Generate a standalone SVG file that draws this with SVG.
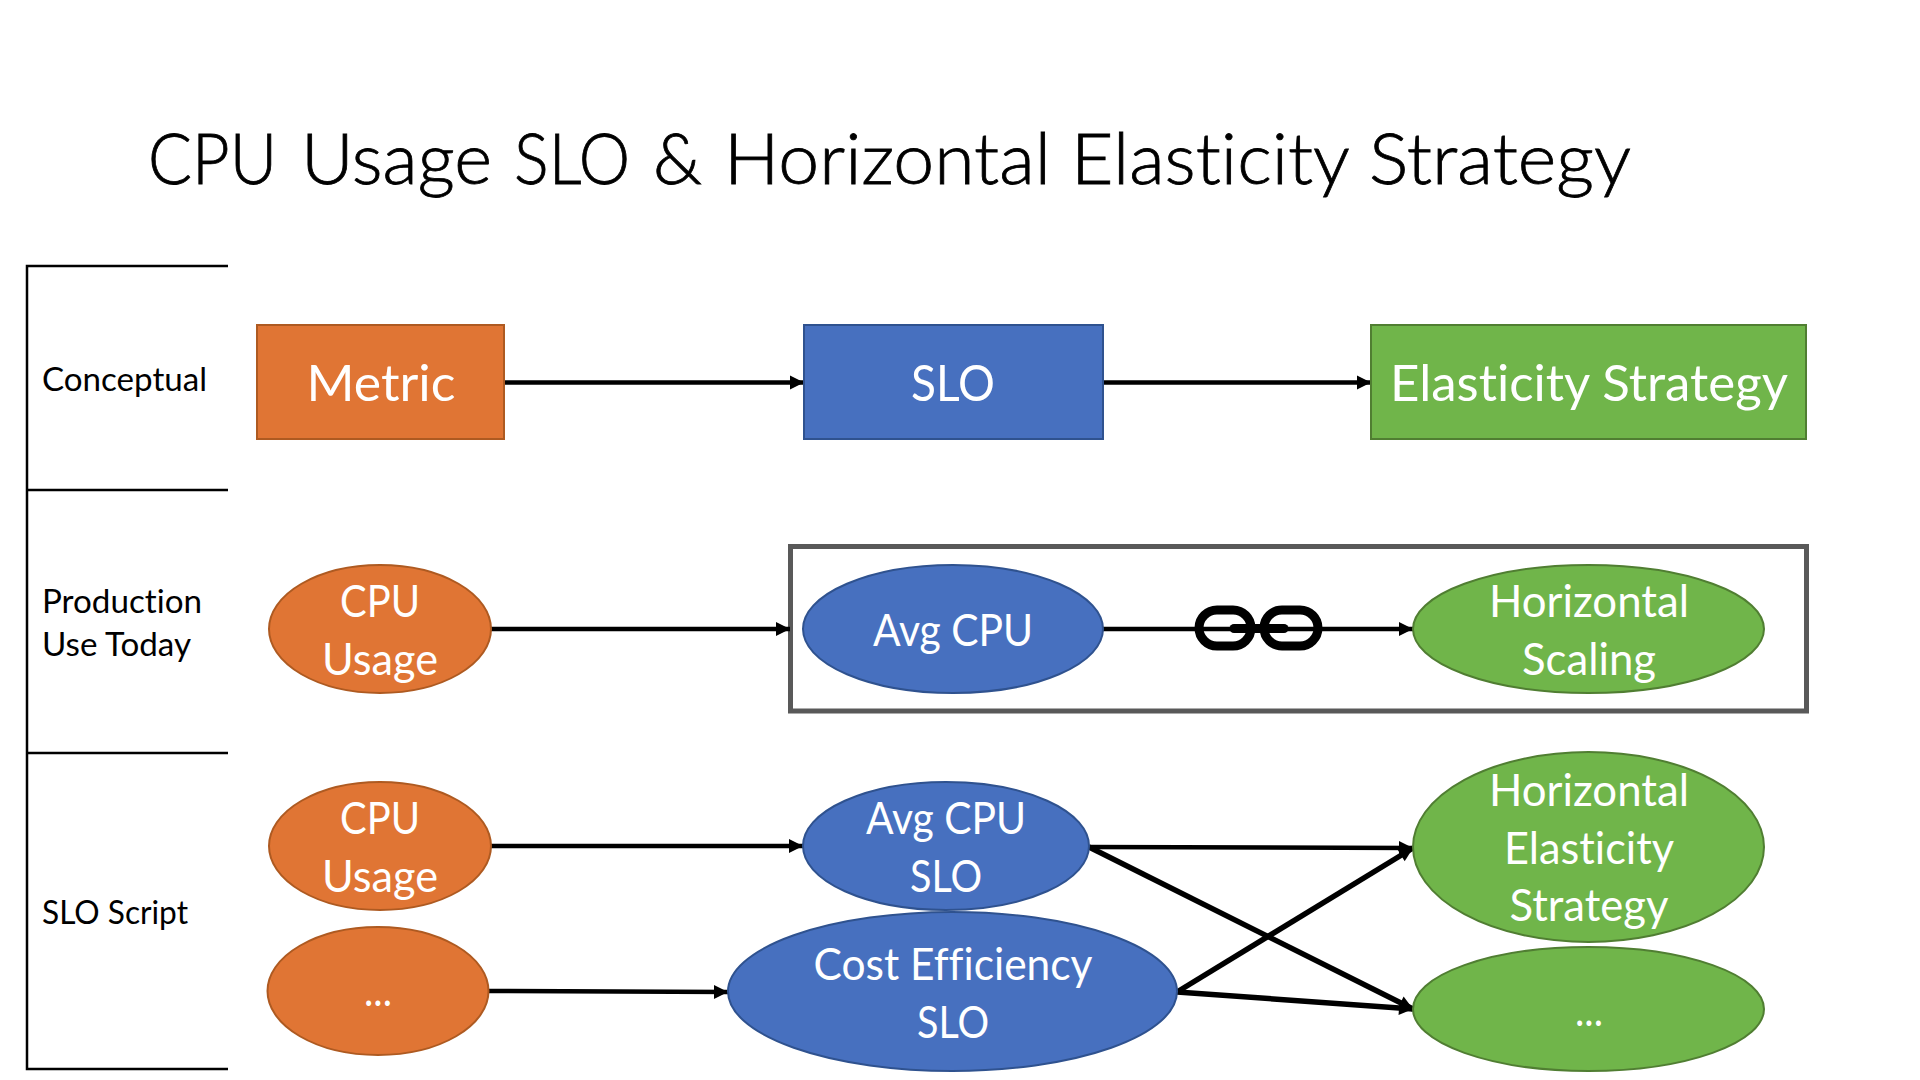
<svg xmlns="http://www.w3.org/2000/svg" width="1920" height="1080" viewBox="0 0 1920 1080">
<style>
text{font-family:"Lato","Liberation Sans",sans-serif;font-variant-ligatures:none}
.t{fill:#fff;font-size:45px;text-anchor:middle}
.r{font-size:50px}
.l{fill:#000;font-size:33px}
.o{fill:#E07534;stroke:#AE5A21;stroke-width:2}
.b{fill:#4770BF;stroke:#2F528F;stroke-width:2}
.g{fill:#70B54A;stroke:#507E32;stroke-width:2}
.a{stroke:#000;stroke-width:4.5;fill:none;marker-end:url(#ah)}
.br{stroke:#000;stroke-width:2.5;fill:none}
</style>
<defs><marker id="ah" markerUnits="userSpaceOnUse" markerWidth="16" markerHeight="16" refX="15" refY="8" orient="auto"><path d="M1 1L15 8L1 15Z" fill="#000"/></marker></defs>
<rect width="1920" height="1080" fill="#fff"/>
<text id="title" y="184" font-size="71" font-weight="300" fill="#000" stroke="#000" stroke-width="0.8"><tspan x="148" textLength="129" lengthAdjust="spacingAndGlyphs">CPU</tspan> <tspan x="301" textLength="191" lengthAdjust="spacingAndGlyphs">Usage</tspan> <tspan x="514" textLength="116" lengthAdjust="spacingAndGlyphs">SLO</tspan> <tspan x="653" textLength="49" lengthAdjust="spacingAndGlyphs">&amp;</tspan> <tspan x="724" textLength="327" lengthAdjust="spacingAndGlyphs">Horizontal</tspan> <tspan x="1071" textLength="277" lengthAdjust="spacingAndGlyphs">Elasticity</tspan> <tspan x="1369" textLength="262" lengthAdjust="spacingAndGlyphs">Strategy</tspan></text>
<g id="bracket" class="br"><path d="M228 266H27V1069H228M27 490H228M27 753H228"/></g>
<g id="label-conceptual"><text class="l" x="42" y="391" textLength="165" lengthAdjust="spacingAndGlyphs">Conceptual</text></g>
<g id="label-production"><text class="l" x="42" y="613" textLength="160" lengthAdjust="spacingAndGlyphs">Production</text><text class="l" x="42" y="656" textLength="149" lengthAdjust="spacingAndGlyphs">Use Today</text></g>
<g id="label-script"><text class="l" x="42" y="924" textLength="146" lengthAdjust="spacingAndGlyphs">SLO Script</text></g>
<rect id="highlight" x="790.500" y="546.500" width="1016" height="164.500" fill="none" stroke="#595959" stroke-width="5"/>
<g id="connectors">
<path class="a" d="M504 382.500H804"/><path class="a" d="M1103 382.500H1371"/>
<path class="a" d="M491 629H790"/><path class="a" d="M1103 629H1413"/>
<path class="a" d="M491 846H803"/><path class="a" d="M488 991L728 992"/>
<path class="a" d="M1089 847L1413 848"/><path class="a" style="stroke-width:5.5" d="M1089 847L1413 1009"/>
<path class="a" style="stroke-width:5.5" d="M1177 992L1413 848"/><path class="a" style="stroke-width:5.5" d="M1177 992L1413 1009"/>
</g>
<g id="chain" fill="none" stroke="#000" stroke-width="9">
<rect x="1199" y="610" width="52" height="36" rx="18"/><rect x="1264" y="610" width="54" height="36" rx="18"/>
<path d="M1234 628.500H1284" stroke-width="9" stroke-linecap="round"/>
</g>
<g id="metric"><rect class="o" x="257" y="325" width="247" height="114"/><text class="t r" x="381" y="401" textLength="149" lengthAdjust="spacingAndGlyphs">Metric</text></g>
<g id="slo"><rect class="b" x="804" y="325" width="299" height="114"/><text class="t r" x="953" y="401" textLength="84" lengthAdjust="spacingAndGlyphs">SLO</text></g>
<g id="elasticity"><rect class="g" x="1371" y="325" width="435" height="114"/><text class="t r" x="1589" y="401" textLength="398" lengthAdjust="spacingAndGlyphs">Elasticity Strategy</text></g>
<g id="cpu1"><ellipse class="o" cx="380" cy="629" rx="111" ry="64"/><text class="t" x="380" y="617" textLength="80" lengthAdjust="spacingAndGlyphs">CPU</text><text class="t" x="380" y="675" textLength="116" lengthAdjust="spacingAndGlyphs">Usage</text></g>
<g id="avg1"><ellipse class="b" cx="953" cy="629" rx="150" ry="64"/><text class="t" x="953" y="646" textLength="160" lengthAdjust="spacingAndGlyphs">Avg CPU</text></g>
<g id="hs"><ellipse class="g" cx="1588.500" cy="629" rx="175.500" ry="64"/><text class="t" x="1589" y="617" textLength="200" lengthAdjust="spacingAndGlyphs">Horizontal</text><text class="t" x="1589" y="675" textLength="134" lengthAdjust="spacingAndGlyphs">Scaling</text></g>
<g id="cpu2"><ellipse class="o" cx="380" cy="846" rx="111" ry="64"/><text class="t" x="380" y="834" textLength="80" lengthAdjust="spacingAndGlyphs">CPU</text><text class="t" x="380" y="892" textLength="116" lengthAdjust="spacingAndGlyphs">Usage</text></g>
<g id="more1"><ellipse class="o" cx="378" cy="991" rx="110.500" ry="64"/><text class="t" x="378" y="1006" textLength="28" lengthAdjust="spacingAndGlyphs">...</text></g>
<g id="avg2"><ellipse class="b" cx="946" cy="846" rx="143" ry="64"/><text class="t" x="946" y="834" textLength="160" lengthAdjust="spacingAndGlyphs">Avg CPU</text><text class="t" x="946" y="892" textLength="72" lengthAdjust="spacingAndGlyphs">SLO</text></g>
<g id="cost"><ellipse class="b" cx="952.500" cy="991.500" rx="224.500" ry="79.500"/><text class="t" x="953" y="980" textLength="279" lengthAdjust="spacingAndGlyphs">Cost Efficiency</text><text class="t" x="953" y="1038" textLength="72" lengthAdjust="spacingAndGlyphs">SLO</text></g>
<g id="hes"><ellipse class="g" cx="1588.500" cy="847" rx="175.500" ry="95"/><text class="t" x="1589" y="806" textLength="200" lengthAdjust="spacingAndGlyphs">Horizontal</text><text class="t" x="1589" y="864" textLength="170" lengthAdjust="spacingAndGlyphs">Elasticity</text><text class="t" x="1589" y="921" textLength="159" lengthAdjust="spacingAndGlyphs">Strategy</text></g>
<g id="more2"><ellipse class="g" cx="1588.500" cy="1009" rx="175.500" ry="62"/><text class="t" x="1589" y="1026" textLength="28" lengthAdjust="spacingAndGlyphs">...</text></g>
</svg>
